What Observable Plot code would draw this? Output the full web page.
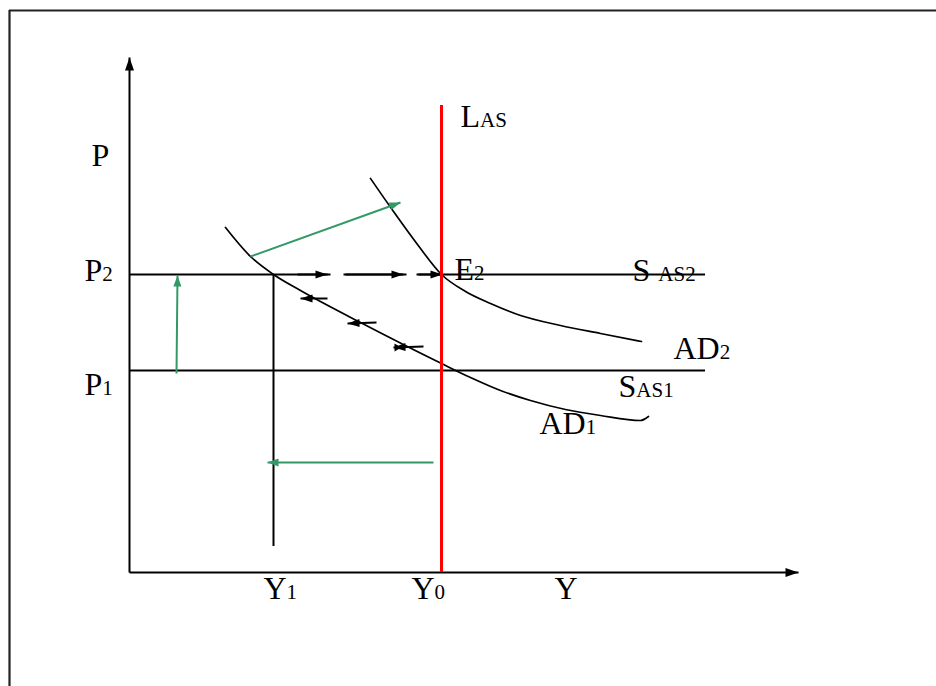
<!DOCTYPE html>
<html>
<head>
<meta charset="utf-8">
<script src="https://cdn.jsdelivr.net/npm/d3@7"></script>
<script src="https://cdn.jsdelivr.net/npm/@observablehq/plot@0.6"></script>
<style>
  html, body { margin: 0; padding: 0; background: #fff; }
  #chart svg { display: block; }
</style>
</head>
<body>
<div id="chart"></div>
<script>
// ---- Diagram values (diagram units, y grows downward as in the drawing) ----
const frameTop = 10;
const frameLeft = 9;

const originX = 129;          // P axis position
const originY = 572;          // Y axis position
const pAxisTop = 57;          // tip of the P axis arrow
const yAxisRight = 798;       // tip of the Y axis arrow

const sasLevels = [274, 370]; // SAS2 (P2), SAS1 (P1)
const sasRight = 705;

const lasX = 441;             // Y0, long-run AS
const lasTop = 105;

const y1X = 273;              // Y1 vertical
const y1Bottom = 546;

const ad1X = [225, 250, 273, 300, 360, 441, 470, 500, 530, 565, 600, 640, 648];
const ad1Y = [227, 256, 274, 290, 322, 363, 377, 390, 400, 409, 415, 420, 416];

const ad2X = [370, 393, 417, 441, 465, 490, 520, 560, 600, 641];
const ad2Y = [178, 211, 244, 274, 291, 303, 315, 325, 333, 341];

// green shift arrows: from -> to
const greenFromX = [250, 176, 433];
const greenFromY = [256, 373, 462];
const greenToX   = [400, 177, 267];
const greenToY   = [202, 275, 462];

// black adjustment arrows: from -> to
const blackFromX = [297, 345, 418, 327, 376, 423];
const blackFromY = [274, 274, 274, 298, 322, 346];
const blackToX   = [327, 403, 442, 300, 347, 393];
const blackToY   = [274, 274, 274, 298, 323, 347];

// small breaks drawn in the P2 line between the arrows
const gapStart = [330, 406];
const gapEnd   = [343, 416];

// labels: main letter(s), subscript part, anchor (left, baseline)
const labelMain = ["P", "P", "P", "Y", "Y", "Y", "L", "E", "S\u00a0", "AD", "S", "AD"];
const labelSub  = ["", "2", "1", "1", "0", "", "AS", "2", "AS2", "2", "AS1", "1"];
const labelX    = [91, 84, 84, 263, 411, 554, 460, 454, 632, 673, 618, 539];
const labelY    = [165, 280, 394, 598, 598, 598, 126, 279, 280, 358, 396, 433];

// ---- Build tables ----
const ad1 = ad1X.map((x, i) => ({x, y: ad1Y[i]}));
const ad2 = ad2X.map((x, i) => ({x, y: ad2Y[i]}));
const green = greenFromX.map((x1, i) => ({x1, y1: greenFromY[i], x2: greenToX[i], y2: greenToY[i]}));
const black = blackFromX.map((x1, i) => ({x1, y1: blackFromY[i], x2: blackToX[i], y2: blackToY[i]}));
const axes = [
  {x1: originX, y1: originY, x2: originX, y2: pAxisTop},
  {x1: originX, y1: originY, x2: yAxisRight, y2: originY}
];
const gaps = gapStart.map((x1, i) => ({x1, x2: gapEnd[i], y: sasLevels[0]}));
const labels = labelMain.map((m, i) => ({main: m, sub: labelSub[i], x: labelX[i], y: labelY[i]}));

const angle = d => Math.atan2(d.x2 - d.x1, -(d.y2 - d.y1)) * 180 / Math.PI;
const heads = arr => arr.map(d => ({x: d.x2, y: d.y2, a: angle(d)}));

// filled triangular arrow head, tip at the anchor point
const triangle = (w) => ({
  draw(ctx, l) {
    ctx.moveTo(0, -l);
    ctx.lineTo(w / 2, 0);
    ctx.lineTo(-w / 2, 0);
    ctx.closePath();
  }
});

// bow-tie tail of the lowest adjustment arrow
const bowtie = [{x: 401, y: 347, a: 90}];

const GREEN = "#339966";

const chart = Plot.plot({
  width: 936,
  height: 686,
  margin: 0,
  x: {domain: [0, 936], range: [0, 936], axis: null},
  y: {domain: [0, 686], range: [0, 686], axis: null},
  style: {fontFamily: "'Liberation Serif', 'Times New Roman', serif", background: "#fff", color: "#000"},
  marks: [
    // frame
    Plot.ruleY([frameTop], {x1: frameLeft, x2: 936, stroke: "#222", strokeWidth: 2.2}),
    Plot.ruleX([frameLeft], {y1: frameTop, y2: 686, stroke: "#222", strokeWidth: 2.2}),
    // axes
    Plot.link(axes, {x1: "x1", y1: "y1", x2: "x2", y2: "y2", stroke: "#000", strokeWidth: 2}),
    Plot.vector(heads(axes), {x: "x", y: "y", rotate: "a", length: 13, anchor: "end", shape: triangle(9), fill: "#000", stroke: "none"}),
    // short-run AS lines
    Plot.ruleY(sasLevels, {x1: originX, x2: sasRight, stroke: "#000", strokeWidth: 2}),
    Plot.link(gaps, {x1: "x1", x2: "x2", y1: "y", y2: "y", stroke: "#fff", strokeWidth: 3}),
    // Y1 vertical
    Plot.ruleX([y1X], {y1: sasLevels[0], y2: y1Bottom, stroke: "#000", strokeWidth: 2}),
    // AD curves
    Plot.line(ad1, {x: "x", y: "y", curve: "monotone-x", stroke: "#000", strokeWidth: 1.7}),
    Plot.line(ad2, {x: "x", y: "y", curve: "monotone-x", stroke: "#000", strokeWidth: 1.7}),
    // black adjustment arrows
    Plot.link(black, {x1: "x1", y1: "y1", x2: "x2", y2: "y2", stroke: "#000", strokeWidth: 2}),
    Plot.vector(heads(black), {x: "x", y: "y", rotate: "a", length: 12, anchor: "end", shape: triangle(8), fill: "#000", stroke: "none"}),
    Plot.vector(bowtie, {x: "x", y: "y", rotate: "a", length: 7, anchor: "end", shape: triangle(8), fill: "#000", stroke: "none"}),
    // long-run AS
    Plot.ruleX([lasX], {y1: lasTop, y2: originY, stroke: "#ff0000", strokeWidth: 3}),
    // green shift arrows
    Plot.link(green, {x1: "x1", y1: "y1", x2: "x2", y2: "y2", stroke: GREEN, strokeWidth: 2}),
    Plot.vector(heads(green), {x: "x", y: "y", rotate: "a", length: 11, anchor: "end", shape: triangle(8), fill: GREEN, stroke: "none"}),
    // labels
    Plot.text(labels, {x: "x", y: "y", text: "main", textAnchor: "start", lineAnchor: "bottom", fontSize: 32, fill: "#000"})
  ]
});

// add the small-size suffixes (they sit on the baseline, in smaller type)
const textNodes = chart.querySelectorAll('g[aria-label="text"] text');
textNodes.forEach((node, j) => {
  const d = labels[j];
  if (d && d.sub) {
    const ts = document.createElementNS("http://www.w3.org/2000/svg", "tspan");
    ts.setAttribute("font-size", "21");
    ts.textContent = d.sub;
    node.appendChild(ts);
  }
});

document.getElementById("chart").appendChild(chart);
</script>
</body>
</html>
